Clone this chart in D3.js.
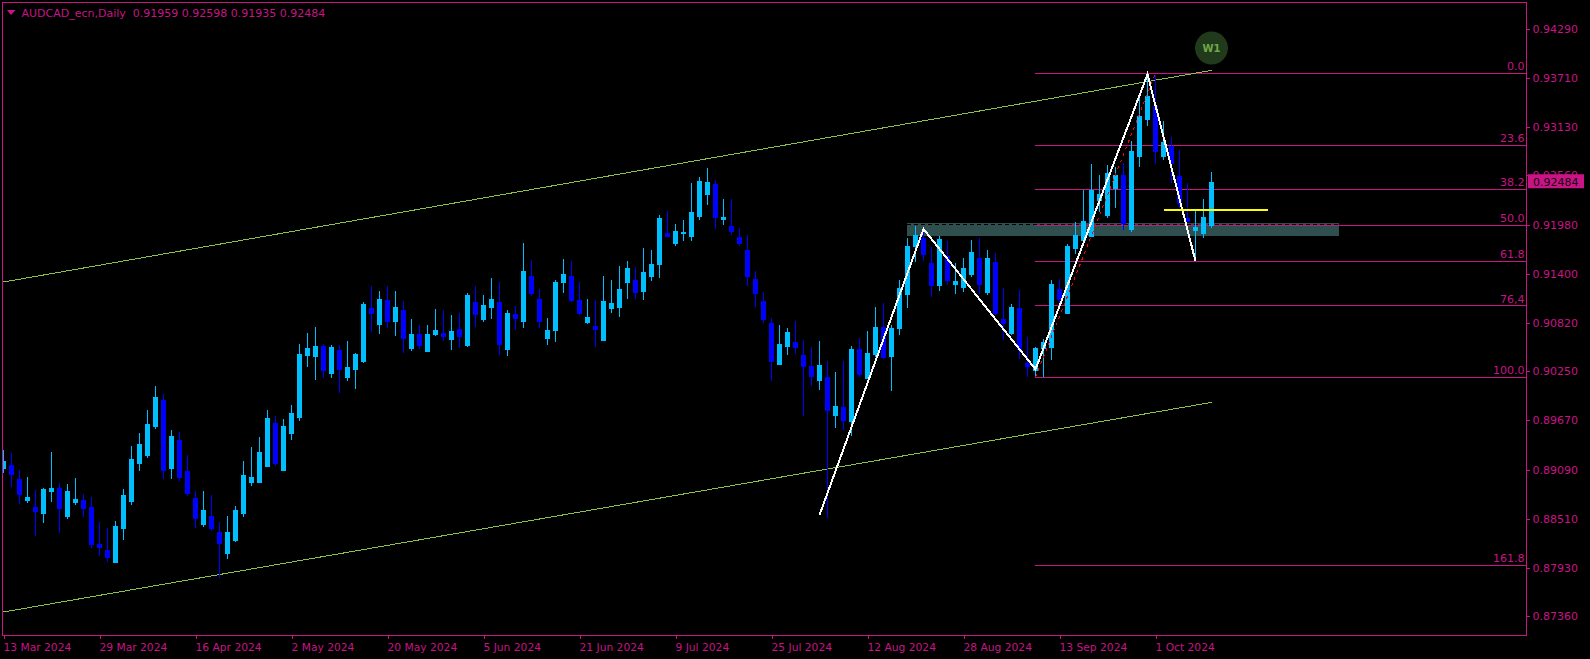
<!DOCTYPE html>
<html><head><meta charset="utf-8">
<script src="https://cdn.jsdelivr.net/npm/d3@7/dist/d3.min.js"></script>
<style>
html,body{margin:0;padding:0;background:#000;overflow:hidden}
svg{display:block}
text{font-family:"DejaVu Sans",sans-serif;font-size:11px;white-space:pre}
</style></head><body>
<script>
const symbolTitle = "AUDCAD_ecn,Daily";
const quote = ["0.91959","0.92598","0.91935","0.92484"];
const highs = [
.89322,.89287,.89086,.89003,.88850,.88874,.89298,.88933,.88921,.88992,
.88803,.88767,.88473,.88403,.88485,.88862,.89369,.89522,.89793,.90076,
.89982,.89558,.89534,.89263,.88838,.88838,.88791,.88473,.88544,.88662,
.89192,.89357,.89475,.89793,.89722,.89687,.89852,.90572,.90701,.90772,
.90572,.90560,.90560,.90607,.90465,.91066,.91255,.91196,.91255,.91196,
.91078,.90866,.90795,.90795,.90984,.90972,.90913,.90937,.91172,.91255,
.91149,.91349,.91302,.90972,.91019,.91762,.91561,.91220,.90878,.91326,
.91573,.91549,.91302,.91102,.91090,.91373,.91326,.91491,.91549,.91479,
.91703,.91679,.92092,.92139,.91986,.92033,.92469,.92540,.92646,.92504,
.92280,.92280,.91938,.91856,.91432,.91184,.90878,.90795,.90760,.90842,
.90618,.90536,.90607,.90371,.90241,.90371,.90548,.90642,.90724,.91007,
.91055,.90795,.91326,.91821,.91962,.91915,.91714,.91844,.91785,.91526,
.91585,.91797,.91821,.91679,.91644,.91232,.91043,.91208,.90654,.90536,
.90630,.91326,.91337,.91750,.92009,.92386,.92693,.92563,.92681,.92658,
.92705,.92964,.93483,.93742,.93742,.93200,.93011,.92858,.92469,.92139,
.92280,.92598];
const lows = [
.89051,.88885,.88686,.88698,.88308,.88462,.88709,.88344,.88509,.88674,
.88532,.88167,.88072,.88001,.87990,.88261,.88674,.89074,.89228,.89570,
.88980,.88980,.88956,.88779,.88403,.88414,.88367,.87813,.88037,.88237,
.88532,.88897,.88933,.89122,.89133,.89074,.89440,.89664,.90300,.90147,
.90170,.90170,.89994,.90135,.90041,.90348,.90713,.90689,.90760,.90666,
.90465,.90489,.90512,.90477,.90666,.90607,.90501,.90524,.90536,.90772,
.90831,.90866,.90442,.90430,.90736,.90760,.91137,.90760,.90560,.90595,
.91172,.91066,.90913,.90807,.90536,.90607,.90937,.90889,.91102,.91102,
.91090,.91314,.91349,.91833,.91726,.91785,.91785,.92033,.92210,.91927,
.91974,.91856,.91726,.91255,.91007,.90819,.90135,.90324,.90442,.90453,
.89722,.90076,.90029,.88520,.89581,.89558,.89487,.90182,.90159,.90418,
.90395,.90018,.90677,.90996,.91538,.91549,.91125,.91196,.91267,.91161,
.91184,.91361,.91161,.91149,.90913,.90618,.90677,.90395,.90182,.90194,
.90182,.90383,.91031,.90925,.91632,.91785,.91833,.92127,.92057,.92174,
.91915,.91891,.92658,.93141,.92693,.92740,.92469,.92174,.92009,.91561,
.91820,.91935];
const opens = [
.89098,.89145,.88980,.88721,.88650,.88568,.88826,.88874,.88532,.88698,
.88733,.88650,.88214,.88143,.87990,.88391,.88709,.89157,.89251,.89593,
.89911,.89098,.89440,.89074,.88756,.88438,.88544,.88355,.88096,.88249,
.88568,.88933,.88933,.89122,.89640,.89074,.89511,.89699,.90430,.90418,
.90548,.90218,.90501,.90170,.90265,.90360,.90996,.90795,.91090,.90831,
.90972,.90512,.90689,.90477,.90677,.90701,.90618,.90748,.90548,.91066,
.90854,.90996,.91066,.90501,.90925,.90831,.91373,.91102,.90630,.90724,
.91290,.91373,.91090,.90819,.90783,.90607,.90984,.90996,.91290,.91326,
.91184,.91361,.91502,.91880,.91750,.91868,.91833,.92068,.92327,.92457,
.92033,.91962,.91833,.91679,.91337,.91078,.90819,.90324,.90536,.90595,
.90442,.90312,.90135,.90182,.89722,.89828,.89652,.90512,.90159,.90442,
.90772,.90418,.90748,.91149,.91714,.91821,.91526,.91255,.91608,.91267,
.91232,.91385,.91585,.91172,.91538,.90866,.90689,.90996,.90348,.90253,
.90512,.90524,.91220,.90925,.91691,.91785,.91833,.92257,.92080,.92398,
.92563,.91915,.92776,.93212,.93377,.92776,.92905,.92551,.92057,.91903,
.91868,.91959];
const closes = [
.89192,.89027,.88791,.88767,.88591,.88862,.88874,.88627,.88838,.88744,
.88627,.88202,.88167,.88049,.88426,.88791,.89216,.89393,.89628,.89946,
.89074,.89487,.88992,.88803,.88509,.88615,.88391,.88214,.88355,.88615,
.89027,.89003,.89298,.89699,.89157,.89605,.89758,.90453,.90524,.90548,
.90253,.90536,.90265,.90300,.90453,.91043,.90925,.91102,.90831,.91007,
.90630,.90689,.90548,.90689,.90736,.90654,.90724,.90654,.91149,.90913,
.91031,.91102,.90560,.90937,.90866,.91432,.91161,.90831,.90736,.91302,
.91397,.91078,.90925,.90889,.90736,.91078,.91055,.91220,.91467,.91172,
.91420,.91514,.92057,.91833,.91903,.91891,.92127,.92492,.92480,.92057,
.92068,.91891,.91750,.91361,.91161,.90854,.90360,.90571,.90713,.90524,
.90300,.90182,.90324,.89781,.89840,.89664,.90512,.90206,.90465,.90772,
.90406,.90760,.91232,.91726,.91856,.91620,.91255,.91809,.91314,.91314,
.91467,.91656,.91267,.91585,.90925,.90807,.91007,.90501,.90300,.90524,
.90595,.91279,.91090,.91726,.91856,.92021,.92386,.92339,.92587,.92563,
.91986,.92846,.93259,.93494,.92834,.92952,.92693,.92222,.92009,.91950,
.92068,.92484];
const priceTicks = [0.94290,0.93710,0.93130,0.92560,0.91980,0.91400,0.90820,0.90250,0.89670,0.89090,0.88510,0.87930,0.87360];
const dateTickBars = [0,12,24,36,48,60,72,84,96,108,120,132,144];
const dateTickLabels = ["13 Mar 2024","29 Mar 2024","16 Apr 2024","2 May 2024","20 May 2024","5 Jun 2024","21 Jun 2024","9 Jul 2024","25 Jul 2024","12 Aug 2024","28 Aug 2024","13 Sep 2024","1 Oct 2024"];
const fibLevels = [0,23.6,38.2,50,61.8,76.4,100,161.8];
const fibLabels = ["0.0","23.6","38.2","50.0","61.8","76,4","100.0","161.8"];
const fibHighPrice = 0.93762, fibLowPrice = 0.90179;
const fibStartBar = 129, fibBaseEndBar = 144;
const upperChannel = [[0,0.91302],[151,0.93797]];
const lowerChannel = [[0,0.87412],[151,0.89883]];
const zigzag = [[102,0.88556],[115,0.91927],[129,0.90273],[143,0.93750],[149,0.91549]];
const zone = {startBar:113,endBar:167,top:0.91994,bottom:0.91844};
const yellowLevel = {startBar:145,endBar:158,price:0.92151};
const badge = {bar:151,price:0.9406,label:"W1"};
const lastPrice = 0.92484;

const W=1590,H=659, L=2.5,T=2.5,R=1526.5,B=635.5;
const MAG="#C71585", UP="#00BFFF", DN="#0000FF";
const x=d3.scaleLinear().domain([0,151]).range([3.5,1211.5]);
const y=d3.scaleLinear().domain([0.94597,0.87141]).range([2.5,635]);
const svg=d3.select("body").append("svg").attr("width",W).attr("height",H).style("background","#000");
svg.append("defs").append("clipPath").attr("id","plot").append("rect")
  .attr("x",L+.5).attr("y",T+.5).attr("width",R-L-1).attr("height",B-T-1);
const plot=svg.append("g").attr("clip-path","url(#plot)").attr("shape-rendering","crispEdges");
const ln=d3.line().x(d=>x(d[0])).y(d=>y(d[1]));

// zone
plot.append("rect").attr("x",x(zone.startBar)-.5).attr("width",x(zone.endBar)-x(zone.startBar))
  .attr("y",y(zone.top)).attr("height",y(zone.bottom)-y(zone.top)).attr("fill","#2F4F4F");
plot.append("line").attr("x1",x(zone.startBar)-.5).attr("x2",x(zone.endBar)-.5)
  .attr("y1",y(zone.top)+1).attr("y2",y(zone.top)+1).attr("stroke","#000").attr("stroke-dasharray","4,3");

// fib
const fibPrice=l=>fibHighPrice-(fibHighPrice-fibLowPrice)*l/100;
plot.selectAll(".fib").data(fibLevels).join("line").attr("class","fib")
  .attr("x1",x(fibStartBar)-.5).attr("x2",R)
  .attr("y1",d=>Math.floor(y(fibPrice(d)))+.5).attr("y2",d=>Math.floor(y(fibPrice(d)))+.5)
  .attr("stroke",MAG);

// channel
[upperChannel,lowerChannel].forEach(c=>plot.append("path").attr("d",ln(c)).attr("fill","none").attr("stroke","#8BC34A").attr("stroke-width",1));

// candles
const idx=d3.range(highs.length);
plot.selectAll(".wick").data(idx).join("line").attr("class","wick")
  .attr("x1",i=>x(i)).attr("x2",i=>x(i)).attr("y1",i=>y(highs[i])).attr("y2",i=>y(lows[i]))
  .attr("stroke",i=>closes[i]>=opens[i]?UP:DN);
plot.selectAll(".body").data(idx).join("rect").attr("class","body")
  .attr("x",i=>x(i)-2.5).attr("width",5)
  .attr("y",i=>y(Math.max(opens[i],closes[i])))
  .attr("height",i=>Math.max(1,Math.abs(y(opens[i])-y(closes[i]))))
  .attr("fill",i=>closes[i]>=opens[i]?UP:DN);

// red fib base
plot.append("path").attr("d",ln([[fibStartBar,fibLowPrice],[fibBaseEndBar,fibHighPrice]]))
  .attr("fill","none").attr("stroke","#FF0000").attr("stroke-dasharray","3,4");
// zigzag
plot.append("path").attr("d",ln(zigzag)).attr("fill","none").attr("stroke","#fff").attr("stroke-width",2).attr("stroke-linejoin","miter");
// yellow
plot.append("line").attr("x1",x(yellowLevel.startBar)).attr("x2",x(yellowLevel.endBar))
  .attr("y1",y(yellowLevel.price)).attr("y2",y(yellowLevel.price)).attr("stroke","#FFFF00").attr("stroke-width",2);

// badge
svg.append("circle").attr("cx",x(badge.bar)).attr("cy",y(badge.price)).attr("r",16.5).attr("fill","#213A1B");
svg.append("text").attr("x",x(badge.bar)).attr("y",y(badge.price)+3.5).attr("text-anchor","middle")
  .attr("fill","#6FA84A").style("font-size","10px").style("font-weight","bold").text(badge.label);

// frame
svg.append("rect").attr("x",L).attr("y",T).attr("width",R-L).attr("height",B-T).attr("fill","none").attr("stroke",MAG).attr("shape-rendering","crispEdges");

// fib labels
svg.selectAll(".fibl").data(fibLevels).join("text").attr("class","fibl")
  .attr("x",R-2).attr("y",d=>y(fibPrice(d))-3).attr("text-anchor","end").attr("fill",MAG)
  .text((d,i)=>fibLabels[i]);

// axes
const ay=svg.append("g").attr("transform",`translate(${R},0)`)
  .call(d3.axisRight(y).tickValues(priceTicks).tickSize(3).tickPadding(3).tickFormat(d3.format(".5f")));
ay.select(".domain").remove();
ay.selectAll("line").attr("stroke",MAG).attr("shape-rendering","crispEdges");
ay.selectAll("text").attr("fill",MAG).style("font-family",'"DejaVu Sans"').style("font-size","11px");

const ax=svg.append("g").attr("transform",`translate(0,${B})`)
  .call(d3.axisBottom(x).tickValues(dateTickBars).tickSize(3).tickPadding(4.5).tickFormat((d,i)=>dateTickLabels[i]));
ax.select(".domain").remove();
ax.selectAll("line").attr("stroke",MAG).attr("shape-rendering","crispEdges");
ax.selectAll("text").attr("fill",MAG).attr("text-anchor","start").attr("dx",-0.5).style("font-family",'"DejaVu Sans"').style("font-size","10.7px");

// last price box
svg.append("rect").attr("x",R+1.5).attr("y",y(lastPrice)-7.5).attr("width",56).attr("height",14).attr("fill",MAG);
svg.append("text").attr("x",R+6.5).attr("y",y(lastPrice)+4).attr("fill","#1a0010").text(d3.format(".5f")(lastPrice));

// header
svg.append("path").attr("d",d3.line()([[7,10],[15.5,10],[11,15]])+"Z").attr("fill",MAG);
svg.append("text").attr("x",21.5).attr("y",16.5).attr("fill",MAG).text(symbolTitle+"  "+quote.join(" "));
</script>
</body></html>
